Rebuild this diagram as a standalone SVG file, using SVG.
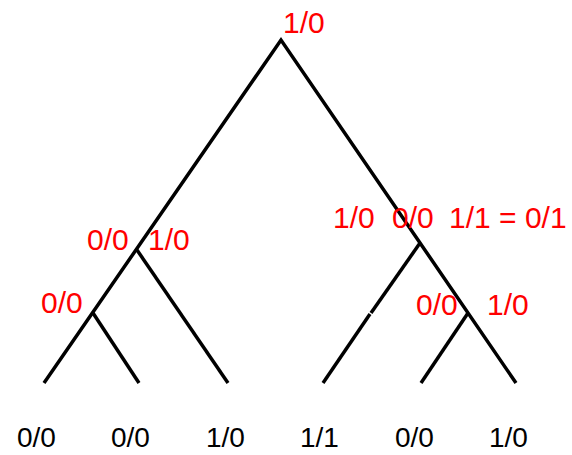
<svg xmlns="http://www.w3.org/2000/svg" width="572" height="455" viewBox="0 0 572 455">
<style>
.e{stroke:#000;stroke-width:3.5;fill:none;stroke-linecap:butt}
.r{fill:#ff0000;font-family:"Liberation Sans",Arial,sans-serif;font-size:30px}
.b{fill:#000;font-family:"Liberation Sans",Arial,sans-serif;font-size:28px}
</style>
<rect width="572" height="455" fill="#fff"/>
<g id="connectors">
<polyline class="e" points="44,383 281,40 516,383"/>
<line class="e" x1="137" y1="250" x2="228" y2="383"/>
<line class="e" x1="93" y1="313" x2="139" y2="383"/>
<line class="e" x1="420" y1="243" x2="371" y2="313"/>
<line class="e" x1="370" y1="314" x2="323" y2="383"/>
<line class="e" x1="468" y1="313" x2="421" y2="383"/>
</g>
<g id="root"><text class="r" x="283" y="33">1/0</text></g>
<g id="right"><text class="r" x="333" y="228">1/0</text><text class="r" x="392" y="228">0/0</text><text class="r" x="449" y="228">1/1 = 0/1</text></g>
<g id="left"><text class="r" x="87" y="250">0/0</text><text class="r" x="148" y="250">1/0</text></g>
<g id="leftleft"><text class="r" x="41" y="313">0/0</text></g>
<g id="rightright"><text class="r" x="416" y="315">0/0</text><text class="r" x="487" y="315">1/0</text></g>
<g id="leaves">
<text class="b" x="17" y="447">0/0</text>
<text class="b" x="111" y="447">0/0</text>
<text class="b" x="206" y="447">1/0</text>
<text class="b" x="300" y="447">1/1</text>
<text class="b" x="395" y="447">0/0</text>
<text class="b" x="489" y="447">1/0</text>
</g>
</svg>
